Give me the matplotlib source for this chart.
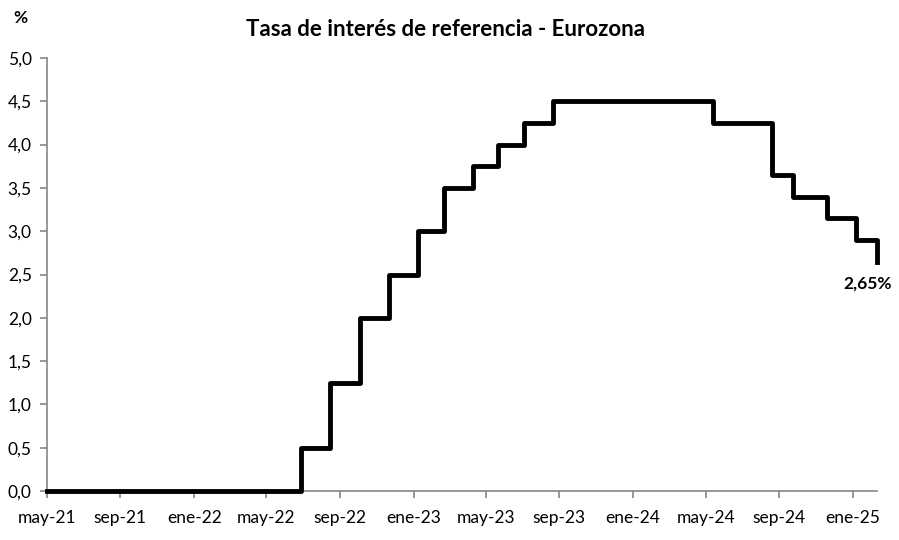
import matplotlib.pyplot as plt
import matplotlib.dates as mdates
import numpy as np
from datetime import date

plt.rcParams["font.family"] = ["Lato", "DejaVu Sans"]

# fechas de cambio de tasa (vigencia) y nivel
change_dates = [date(2021, 5, 31), date(2022, 7, 27), date(2022, 9, 14), date(2022, 11, 2),
                date(2022, 12, 21), date(2023, 2, 8), date(2023, 3, 22), date(2023, 5, 10),
                date(2023, 6, 21), date(2023, 8, 2), date(2023, 9, 20), date(2024, 6, 12),
                date(2024, 9, 18), date(2024, 10, 23), date(2024, 12, 18), date(2025, 2, 5),
                date(2025, 3, 12)]
rates = [0.0, 0.5, 1.25, 2.0, 2.5, 3.0, 3.5, 3.75, 4.0, 4.25, 4.5, 4.25,
         3.65, 3.40, 3.15, 2.90, 2.65]
end_date = date(2025, 3, 12)

tick_dates = [date(2021, 5, 31), date(2021, 9, 30), date(2022, 1, 31), date(2022, 5, 31),
              date(2022, 9, 30), date(2023, 1, 31), date(2023, 5, 31), date(2023, 9, 30),
              date(2024, 1, 31), date(2024, 5, 31), date(2024, 9, 30), date(2025, 1, 31)]
tick_labels = ["may-21", "sep-21", "ene-22", "may-22", "sep-22", "ene-23", "may-23",
               "sep-23", "ene-24", "may-24", "sep-24", "ene-25"]
y_ticks = np.arange(0, 5.01, 0.5)

fig = plt.figure(figsize=(8.99, 5.40), dpi=100)
ax = fig.add_axes([47 / 899, 49 / 540, 830 / 899, 433 / 540])

x = mdates.date2num(change_dates + [end_date])
y = rates + [rates[-1]]
ax.step(x, y, where="post", color="black", lw=3.5, clip_on=False, zorder=3)

ax.set_xlim(mdates.date2num(change_dates[0]), mdates.date2num(end_date))
ax.set_ylim(0, 5)

ax.set_xticks(mdates.date2num(tick_dates))
ax.set_xticklabels(tick_labels)
ax.set_yticks(y_ticks)
ax.set_yticklabels([f"{v:.1f}".replace(".", ",") for v in y_ticks])

for s in ["top", "right"]:
    ax.spines[s].set_visible(False)
for s in ["left", "bottom"]:
    ax.spines[s].set_color("#868686")
    ax.spines[s].set_linewidth(1.2)
ax.tick_params(axis="both", colors="#868686", labelcolor="black", labelsize=12.5,
               length=5, width=1.2, direction="out")
ax.tick_params(axis="x", pad=9)
ax.tick_params(axis="y", pad=6)

ax.annotate("2,65%", xy=(mdates.date2num(end_date), rates[-1]), xytext=(-7, -10),
            textcoords="offset points", ha="center", va="top", fontsize=12.5,
            fontweight="bold")

fig.text(20 / 899, 1 - 18 / 540, "%", ha="center", va="center", fontsize=12.5, fontweight="bold")
fig.text(445 / 899, 1 - 30 / 540, "Tasa de interés de referencia - Eurozona", ha="center",
         va="center", fontsize=16, fontweight="bold")

fig.savefig("out.png", dpi=100)
